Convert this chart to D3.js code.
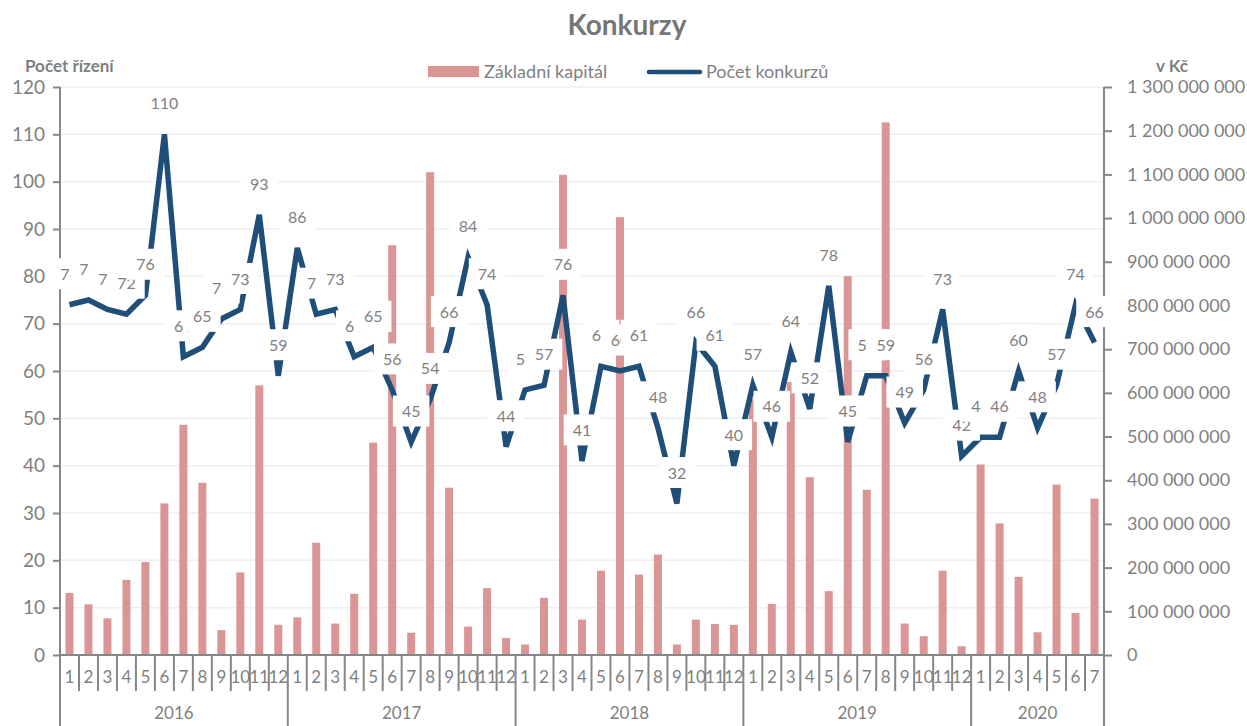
<!DOCTYPE html>
<html>
<head>
<meta charset="utf-8">
<script src="https://cdn.jsdelivr.net/npm/d3@7"></script>
<style>
  body { margin: 0; background: #fff; }
  text { font-family: Lato, "Liberation Sans", sans-serif; }
</style>
</head>
<body>
<svg id="chart"></svg>
<script>
// data
const years = ['2016', '2017', '2018', '2019', '2020'];
const monthsInYear = [12, 12, 12, 12, 7];
const pocetKonkurzu = [
  74, 75, 73, 72, 76, 110, 63, 65, 71, 73, 93, 59,
  86, 72, 73, 63, 65, 56, 45, 54, 66, 84, 74, 44,
  56, 57, 76, 41, 61, 60, 61, 48, 32, 66, 61, 40,
  57, 46, 64, 52, 78, 45, 59, 59, 49, 56, 73, 42,
  46, 46, 60, 48, 57, 74, 66
];
// v mil. Kč
const zakladniKapital = [
  142, 116, 84, 172, 213, 347, 527, 394, 57, 189, 617, 69,
  86, 257, 72, 140, 486, 938, 51, 1105, 383, 65, 153, 39,
  24, 131, 1099, 81, 193, 1002, 184, 230, 24, 81, 71, 69,
  585, 117, 625, 407, 146, 867, 378, 1219, 72, 43, 193, 20,
  436, 301, 179, 52, 390, 96, 358
];
const leftTicks = [0, 10, 20, 30, 40, 50, 60, 70, 80, 90, 100, 110, 120];
const rightTicks = [0, 100, 200, 300, 400, 500, 600, 700, 800, 900, 1000, 1100, 1200, 1300];

const svgWidth = 1247;
const svgHeight = 726;
const plotLeft = 60, plotRight = 1104, plotTop = 87, plotBottom = 655;

const textGray = '#7f7f7f';
const axisGray = '#868686';
const barColor = '#d99694';
const lineColor = '#1f4e79';

// categories (year / month)
const categories = [];
years.forEach(function(y, yi) {
  for (let m = 1; m <= monthsInYear[yi]; m++) {
    categories.push({ key: y + '-' + m, year: y, month: m });
  }
});

const svg = d3.select('#chart')
  .attr('width', svgWidth)
  .attr('height', svgHeight);

const x = d3.scaleBand()
  .domain(categories.map(function(d) { return d.key; }))
  .range([plotLeft, plotRight]);

const yLeft = d3.scaleLinear().domain([0, 120]).range([plotBottom, plotTop]);
const yRight = d3.scaleLinear().domain([0, 1300]).range([plotBottom, plotTop]);

const barWidth = 8;
const cx = function(i) { return x(categories[i].key) + x.bandwidth() / 2; };

// gridlines
svg.append('g')
  .selectAll('line')
  .data(leftTicks.slice(1))
  .enter()
  .append('line')
  .attr('x1', plotLeft)
  .attr('x2', plotRight)
  .attr('y1', function(d) { return yLeft(d); })
  .attr('y2', function(d) { return yLeft(d); })
  .attr('stroke', '#efefef')
  .attr('stroke-width', 1.5);

// bars
svg.append('g')
  .selectAll('rect')
  .data(zakladniKapital)
  .enter()
  .append('rect')
  .attr('x', function(d, i) { return cx(i) - barWidth / 2; })
  .attr('y', function(d) { return yRight(d); })
  .attr('width', barWidth)
  .attr('height', function(d) { return plotBottom - yRight(d); })
  .attr('fill', barColor);

// line
const line = d3.line()
  .x(function(d, i) { return cx(i); })
  .y(function(d) { return yLeft(d); });

svg.append('path')
  .datum(pocetKonkurzu)
  .attr('d', line)
  .attr('fill', 'none')
  .attr('stroke', lineColor)
  .attr('stroke-width', 5.5)
  .attr('stroke-linejoin', 'miter');

// left axis
const leftAxis = d3.axisLeft(yLeft)
  .tickValues(leftTicks)
  .tickSize(7)
  .tickSizeOuter(0)
  .tickPadding(8);

const gLeft = svg.append('g')
  .attr('transform', 'translate(' + plotLeft + ',0)')
  .call(leftAxis);
gLeft.select('.domain').remove();
gLeft.selectAll('line').attr('stroke', axisGray).attr('stroke-width', 2);
gLeft.selectAll('text')
  .attr('fill', textGray)
  .style('font-size', '19px');

// right axis
const czFormat = function(d) {
  return d3.format(',')(d * 1000000).replace(/,/g, ' ');
};
const rightAxis = d3.axisRight(yRight)
  .tickValues(rightTicks)
  .tickFormat(czFormat)
  .tickSize(8)
  .tickSizeOuter(0)
  .tickPadding(15);

const gRight = svg.append('g')
  .attr('transform', 'translate(' + plotRight + ',0)')
  .call(rightAxis);
gRight.select('.domain').remove();
gRight.selectAll('line').attr('stroke', axisGray).attr('stroke-width', 2);
gRight.selectAll('text')
  .attr('fill', textGray)
  .style('font-size', '18px');

// vertical axis lines (run down through the category rows)
svg.append('line')
  .attr('x1', plotLeft).attr('x2', plotLeft)
  .attr('y1', plotTop).attr('y2', svgHeight)
  .attr('stroke', axisGray).attr('stroke-width', 2);
svg.append('line')
  .attr('x1', plotRight).attr('x2', plotRight)
  .attr('y1', plotTop).attr('y2', svgHeight)
  .attr('stroke', axisGray).attr('stroke-width', 2);

// bottom axis line
svg.append('line')
  .attr('x1', plotLeft).attr('x2', plotRight)
  .attr('y1', plotBottom).attr('y2', plotBottom)
  .attr('stroke', axisGray).attr('stroke-width', 2);

// category separators
const gCat = svg.append('g');
gCat.selectAll('line')
  .data(categories.slice(1))
  .enter()
  .append('line')
  .attr('x1', function(d) { return x(d.key); })
  .attr('x2', function(d) { return x(d.key); })
  .attr('y1', plotBottom)
  .attr('y2', function(d) { return d.month === 1 ? svgHeight : 691; })
  .attr('stroke', axisGray)
  .attr('stroke-width', 2);

gCat.selectAll('text')
  .data(categories)
  .enter()
  .append('text')
  .attr('x', function(d) { return x(d.key) + x.bandwidth() / 2; })
  .attr('y', 679)
  .attr('text-anchor', 'middle')
  .attr('dominant-baseline', 'middle')
  .attr('fill', textGray)
  .style('font-size', '17px')
  .text(function(d) { return d.month; });

// year labels
svg.append('g')
  .selectAll('text')
  .data(years)
  .enter()
  .append('text')
  .attr('x', function(y) {
    const inYear = categories.filter(function(c) { return c.year === y; });
    const first = x(inYear[0].key);
    const last = x(inYear[inYear.length - 1].key) + x.bandwidth();
    return (first + last) / 2;
  })
  .attr('y', 715)
  .attr('text-anchor', 'middle')
  .attr('dominant-baseline', 'middle')
  .attr('fill', textGray)
  .style('font-size', '17px')
  .text(function(d) { return d; });

// data labels with white boxes
const labels = svg.append('g')
  .selectAll('g')
  .data(pocetKonkurzu)
  .enter()
  .append('g')
  .attr('transform', function(d, i) {
    return 'translate(' + cx(i) + ',' + (yLeft(d) - 31) + ')';
  });

labels.each(function(d) {
  const g = d3.select(this);
  const t = g.append('text')
    .attr('y', 2)
    .attr('text-anchor', 'middle')
    .attr('dominant-baseline', 'middle')
    .attr('fill', textGray)
    .style('font-size', '16px')
    .text(d);
  const w = t.node().getComputedTextLength() + 18;
  g.insert('rect', 'text')
    .attr('x', -w / 2)
    .attr('y', -15.5)
    .attr('width', w)
    .attr('height', 31)
    .attr('fill', '#fff');
});

// title
svg.append('text')
  .attr('x', 627)
  .attr('y', 35)
  .attr('text-anchor', 'middle')
  .attr('fill', '#767676')
  .style('font-size', '28px')
  .style('font-weight', 'bold')
  .text('Konkurzy');

// axis titles
svg.append('text')
  .attr('x', 25)
  .attr('y', 72)
  .attr('fill', textGray)
  .style('font-size', '17px')
  .style('font-weight', 'bold')
  .text('Počet řízení');

svg.append('text')
  .attr('x', 1172)
  .attr('y', 72)
  .attr('text-anchor', 'middle')
  .attr('fill', textGray)
  .style('font-size', '17px')
  .style('font-weight', 'bold')
  .text('v Kč');

// legend
const legend = svg.append('g');
legend.append('rect')
  .attr('x', 428).attr('y', 66)
  .attr('width', 51).attr('height', 11)
  .attr('fill', barColor);
legend.append('text')
  .attr('x', 484).attr('y', 78)
  .attr('fill', textGray)
  .style('font-size', '18px')
  .text('Základní kapitál');
legend.append('line')
  .attr('x1', 649).attr('x2', 700)
  .attr('y1', 72).attr('y2', 72)
  .attr('stroke', lineColor)
  .attr('stroke-width', 4.5)
  .attr('stroke-linecap', 'round');
legend.append('text')
  .attr('x', 706).attr('y', 78)
  .attr('fill', textGray)
  .style('font-size', '18px')
  .text('Počet konkurzů');
</script>
</body>
</html>
